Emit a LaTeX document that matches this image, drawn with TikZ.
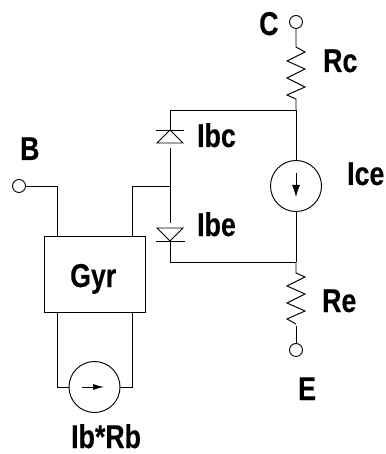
\documentclass[tikz,border=0pt]{standalone}
\usepackage{fontspec}
\setmainfont[FakeStretch=0.81,BoldFeatures={FakeBold=0.3}]{Liberation Sans}
\usetikzlibrary{arrows.meta}
\tikzset{
	wire/.style={line width=0.95pt},
	terminal/.style={draw,line width=0.95pt,circle,minimum size=13pt,inner sep=0pt},
	source/.style={draw,line width=0.95pt,circle,minimum size=51pt,inner sep=0pt},
	label/.style={anchor=base west,inner sep=0pt,font=\fontsize{33}{33}\selectfont\bfseries},
	current/.style={-{Latex[length=12pt,width=8pt]},line width=0.95pt}
}
\begin{document}
\begin{tikzpicture}[x=1pt,y=-1pt]
	\useasboundingbox (0,0) rectangle (385,454);
%	Bornes et sources :
	\node[terminal] (c) at (296,22) {};
	\node[terminal] (e) at (296,350) {};
	\node[terminal] (b) at (19,186) {};
	\node[source] (ice) at (296,186) {};
	\node[source] (irb) at (94.5,387) {};
	\node[draw,line width=0.95pt,minimum width=101pt,minimum height=76pt,inner sep=0pt] (gyr) at (94.5,274) {};
%	Points de raccordement :
	\coordinate (jc) at (296,110);
	\coordinate (je) at (296,262);
	\coordinate (jb) at (170,186);
	\coordinate (rctop) at (296,47);
	\coordinate (rcbot) at (296,99);
	\coordinate (retop) at (296,273);
	\coordinate (rebot) at (296,324);
	\coordinate (rewire) at (296,326);
	\coordinate (dctop) at (170,130);
	\coordinate (dcbot) at (170,148);
	\coordinate (detop) at (170,223);
	\coordinate (debot) at (170,241);
%	Resistances :
	\draw[wire] (c) -- (rctop) -- ++(9,5) -- ++(-18,9) -- ++(18,8) -- ++(-18,9) -- ++(18,9) -- ++(-18,8) -- (rcbot) -- (jc);
	\draw[wire] (je) -- (retop) -- ++(9,4) -- ++(-18,9) -- ++(18,8) -- ++(-18,9) -- ++(18,8) -- ++(-18,8) -- (rebot);
	\draw[wire] (rewire) -- (e);
%	Liaisons :
	\draw[wire] (jc) -- (ice) (ice) -- (je);
	\draw[wire] (jc) -| (dctop);
	\draw[wire] (je) -| (debot);
	\draw[wire] (dcbot) -- (detop);
	\draw[wire] (jb) -- (132,186) -- (132,236);
	\draw[wire] (b) -- (57,186) -- (57,236);
	\draw[wire] (57,312) -- (57,387) -- (irb);
	\draw[wire] (132,312) -- (132,387) -- (irb);
%	Diodes :
	\draw[wire] (156,130) -- (184,130);
	\draw[wire] (dctop) -- (157,143) -- (183,143) -- cycle;
	\draw[wire] (156,241) -- (185,241);
	\draw[wire] (debot) -- (157,228) -- (183,228) -- cycle;
%	Fleches :
	\draw[current] (296,173) -- (296,197);
	\draw[current,-{Latex[length=11pt,width=6pt]}] (82,387) -- (104,387);
%	Textes :
	\node[label] (lc) at (259,35) {C};
	\node[label] (lrc) at (323,72) {Rc};
	\node[label] (libc) at (197,147) {Ibc};
	\node[label] (lice) at (347,185) {Ice};
	\node[label] (libe) at (197,236) {Ibe};
	\node[label] (lb) at (20,160) {B};
	\node[label] (lgyr) at (70,287) {Gyr};
	\node[label] (lre) at (322,312) {Re};
	\node[label] (le) at (298,400) {E};
	\node[label] (lirb) at (71,448) {Ib*Rb};
\end{tikzpicture}
\end{document}
